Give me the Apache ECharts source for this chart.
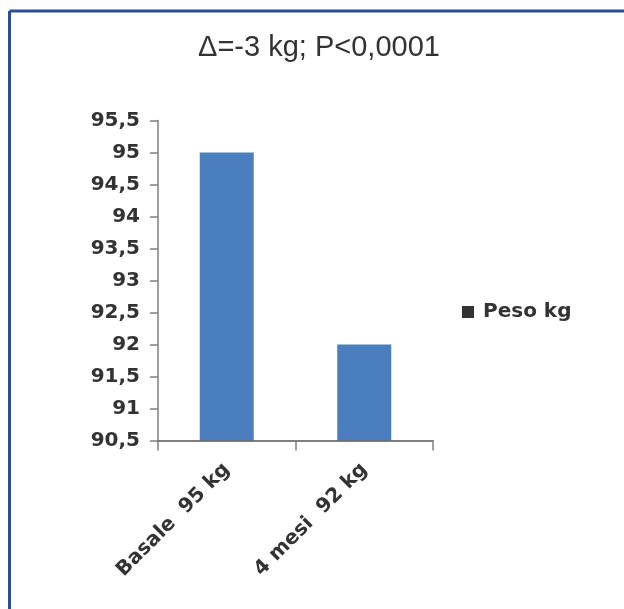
<!DOCTYPE html>
<html>
<head>
<meta charset="utf-8">
<style>
  html, body { margin: 0; padding: 0; background: #ffffff; }
  #chart { width: 624px; height: 609px; }
</style>
<script src="https://cdn.jsdelivr.net/npm/echarts@6/dist/echarts.min.js"></script>
</head>
<body>
<div id="chart"></div>
<script>
// Body weight at baseline and after 4 months
const categories = ['Basale  95 kg', '4 mesi  92 kg'];
const seriesName = 'Peso kg';
const weights = [95, 92];
const titleText = 'Δ=-3 kg; P<0,0001';
const yMin = 90.5;
const yMax = 95.5;
const yStep = 0.5;

const chart = echarts.init(document.getElementById('chart'), null, { renderer: 'canvas' });

const labelFont = {
  fontFamily: 'DejaVu Sans',
  fontWeight: 'bold',
  fontSize: 20,
  color: '#333333'
};

chart.setOption({
  animation: false,
  backgroundColor: '#ffffff',
  title: {
    text: titleText,
    left: 314,
    top: 28,
    textAlign: 'center',
    textStyle: {
      fontFamily: 'Liberation Sans',
      fontWeight: 'normal',
      fontSize: 29,
      color: '#333333'
    }
  },
  legend: {
    data: [{ name: seriesName, itemStyle: { color: '#333333' } }],
    left: 457,
    top: 297,
    orient: 'vertical',
    icon: 'rect',
    itemWidth: 12,
    itemHeight: 12,
    itemGap: 10,
    textStyle: Object.assign({}, labelFont, { padding: [0, 0, 0, 4] })
  },
  grid: {
    left: 158,
    right: 191,
    top: 120.5,
    bottom: 168.5,
    containLabel: false
  },
  xAxis: {
    type: 'category',
    data: categories,
    boundaryGap: true,
    z: 5,
    axisLine: { lineStyle: { color: '#555555', width: 1.5 } },
    axisTick: { show: true, length: 10, inside: false, lineStyle: { color: '#7f7f7f', width: 1.5 } },
    axisLabel: Object.assign({}, labelFont, { rotate: 45, margin: 26, interval: 0 })
  },
  yAxis: {
    type: 'value',
    min: yMin,
    max: yMax,
    interval: yStep,
    splitLine: { show: false },
    axisLine: { show: true, lineStyle: { color: '#7f7f7f', width: 1.5 } },
    axisTick: { show: true, length: 8, lineStyle: { color: '#7f7f7f', width: 1.5 } },
    axisLabel: Object.assign({}, labelFont, {
      margin: 18,
      formatter: v => String(v).replace('.', ',')
    })
  },
  series: [{
    name: seriesName,
    type: 'bar',
    data: weights,
    barWidth: 54,
    itemStyle: { color: '#4a7ebf' }
  }],
  graphic: [
    {
      type: 'line',
      shape: { x1: 9.5, y1: 11, x2: 624, y2: 11 },
      style: { stroke: '#2d4b9b', lineWidth: 3 }
    },
    {
      type: 'line',
      shape: { x1: 9.5, y1: 11, x2: 9.5, y2: 609 },
      style: { stroke: '#2d4b9b', lineWidth: 3 }
    }
  ]
});
</script>
</body>
</html>
